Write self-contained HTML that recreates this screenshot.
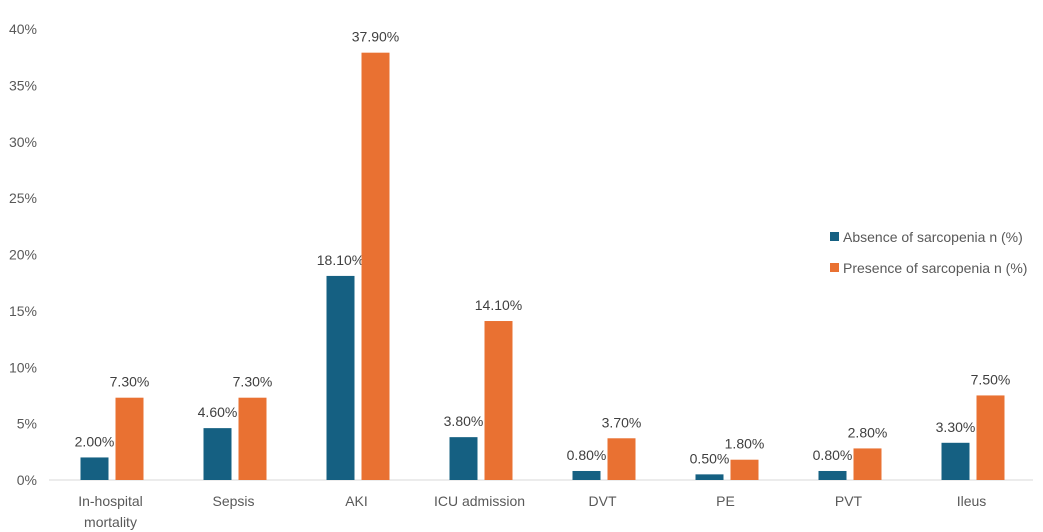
<!DOCTYPE html>
<html><head><meta charset="utf-8"><style>
body{margin:0;background:#fff;}
svg{display:block;font-family:"Liberation Sans",sans-serif;}
</style></head><body>
<svg id="chart" width="1043" height="532"></svg>
<script>
const categories=["In-hospital mortality","Sepsis","AKI","ICU admission","DVT","PE","PVT","Ileus"];
const absenceValues=[2.0,4.6,18.1,3.8,0.8,0.5,0.8,3.3];
const presenceValues=[7.3,7.3,37.9,14.1,3.7,1.8,2.8,7.5];
const yTicks=[0,5,10,15,20,25,30,35,40];
const seriesNames=["Absence of sarcopenia n (%)","Presence of sarcopenia n (%)"];
const colors=["#156082","#E97132"];
const NS="http://www.w3.org/2000/svg";
const svg=document.getElementById('chart');
const x0=49,step=123,y0=480,pxPer=451/40;
const y=v=>y0-v*pxPer;
function mk(t,a,txt){const e=document.createElementNS(NS,t);for(const k in a)e.setAttribute(k,a[k]);if(txt!==undefined)e.textContent=txt;svg.appendChild(e);return e;}
yTicks.forEach(t=>{
 const e=mk('text',{x:37,y:y(t)+5,'text-anchor':'end','font-size':14,fill:'#595959'},t+'%');
 
 
});
const ax=mk('line',{x1:x0,x2:x0+step*categories.length,y1:y0,y2:y0,stroke:'#d9d9d9','stroke-width':1});


categories.forEach((c,i)=>{
 const cx=x0+step*i+step/2;
 [absenceValues[i],presenceValues[i]].forEach((v,s)=>{
  const bx=s===0?cx-30:cx+5;
  const r=mk('rect',{x:bx,y:y(v),width:28,height:v*pxPer,fill:colors[s]});
  
  
  const l=mk('text',{x:bx+14,y:y(v)-11,'text-anchor':'middle','font-size':14,fill:'#404040'},v.toFixed(2)+'%');
  
  
 });
 const words=c==="In-hospital mortality"?["In-hospital","mortality"]:[c];
 words.forEach((w,j)=>{
  const t=mk('text',{x:cx,y:506+j*21,'text-anchor':'middle','font-size':14,fill:'#595959'},w);
  
  
 });
});
seriesNames.forEach((n,i)=>{
 const ly=237+i*31;
 const sq=mk('rect',{x:830,y:ly-5,width:9,height:9,fill:colors[i]});
 
 
 const t=mk('text',{x:843,y:ly+5,'font-size':14,fill:'#595959'},n);
 
 
});
</script>
</body></html>
